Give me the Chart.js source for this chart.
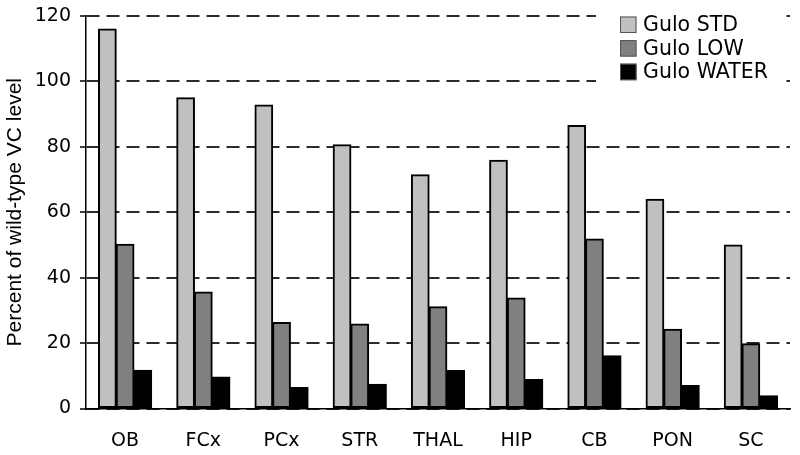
<!DOCTYPE html>
<html>
<head>
<meta charset="utf-8">
<script src="https://cdn.jsdelivr.net/npm/chart.js@4/dist/chart.umd.min.js"></script>
<style>
  html, body { margin: 0; padding: 0; background: #fff; }
  #wrap { width: 800px; height: 455px; }
</style>
</head>
<body>
<div id="wrap"><canvas id="chart" width="800" height="455"></canvas></div>
<script>
const regions = ['OB', 'FCx', 'PCx', 'STR', 'THAL', 'HIP', 'CB', 'PON', 'SC'];
const guloStd = [116, 95, 92.8, 80.6, 71.5, 75.9, 86.5, 64, 50];
const guloLow = [50.2, 35.6, 26.3, 25.8, 31.1, 33.8, 51.8, 24.2, 19.8];
const guloWater = [11.7, 9.6, 6.4, 7.4, 11.6, 8.9, 16.1, 7, 3.9];
const yTicks = [0, 20, 40, 60, 80, 100, 120];

// legend drawn inside the plot, on a white patch that hides the grid lines
const boxLegend = {
  id: 'boxLegend',
  afterDatasetsDraw(chart) {
    const ctx = chart.ctx;
    const x = 620, y0 = 16.5, step = 23.6, size = 16.5;
    ctx.save();
    ctx.fillStyle = '#fff';
    ctx.fillRect(596, 6, 186, 82);
    ctx.font = '20.5px "DejaVu Sans"';
    ctx.textBaseline = 'middle';
    chart.data.datasets.forEach((ds, i) => {
      const y = y0 + i * step;
      ctx.fillStyle = ds.backgroundColor;
      ctx.fillRect(x, y, size, size);
      ctx.strokeStyle = '#555';
      ctx.lineWidth = 1;
      ctx.strokeRect(x + 0.5, y + 0.5, size - 1, size - 1);
      ctx.fillStyle = '#000';
      ctx.fillText(ds.label, x + 23, y + size / 2 + 1);
    });
    ctx.restore();
  },
};

const ctx = document.getElementById('chart');
new Chart(ctx, {
  type: 'bar',
  data: {
    labels: regions,
    datasets: [
      { label: 'Gulo STD', data: guloStd, backgroundColor: '#c0c0c0' },
      { label: 'Gulo LOW', data: guloLow, backgroundColor: '#808080' },
      { label: 'Gulo WATER', data: guloWater, backgroundColor: '#000000' },
    ],
  },
  options: {
    responsive: false,
    animation: false,
    layout: { padding: { left: 0, right: 10, top: 16, bottom: 0 } },
    datasets: {
      bar: {
        borderColor: '#000',
        borderWidth: 2,
        borderSkipped: false,
        inflateAmount: 0.5,
        categoryPercentage: 0.68,
        barPercentage: 1.0,
      },
    },
    plugins: {
      legend: { display: false },
      tooltip: { enabled: false },
    },
    scales: {
      x: {
        grid: { display: false, drawTicks: false },
        border: { color: '#000', width: 1.5 },
        ticks: {
          color: '#000',
          font: { family: 'DejaVu Sans', size: 19 },
          padding: 21,
        },
        afterFit(scale) { scale.height = 46.5; },
      },
      y: {
        min: 0,
        max: 120,
        afterBuildTicks(scale) { scale.ticks = yTicks.map((v) => ({ value: v })); },
        grid: {
          color: '#2b2b2b',
          lineWidth: 2,
          tickLength: 6,
          tickColor: '#000',
          tickWidth: 1.5,
          tickBorderDash: [],
        },
        border: { color: '#000', width: 1.5, dash: [13, 7] },
        ticks: {
          color: '#000',
          font: { family: 'DejaVu Sans', size: 19 },
          padding: 9,
        },
        title: {
          display: true,
          text: 'Percent of wild-type VC level',
          color: '#000',
          font: { family: 'Liberation Sans', size: 21 },
          padding: { top: 3, bottom: 0 },
        },
        afterFit(scale) {
          scale.width = 86;
          scale.paddingTop = 0;
          scale.paddingBottom = 0;
        },
      },
    },
  },
  plugins: [boxLegend],
});
</script>
</body>
</html>
